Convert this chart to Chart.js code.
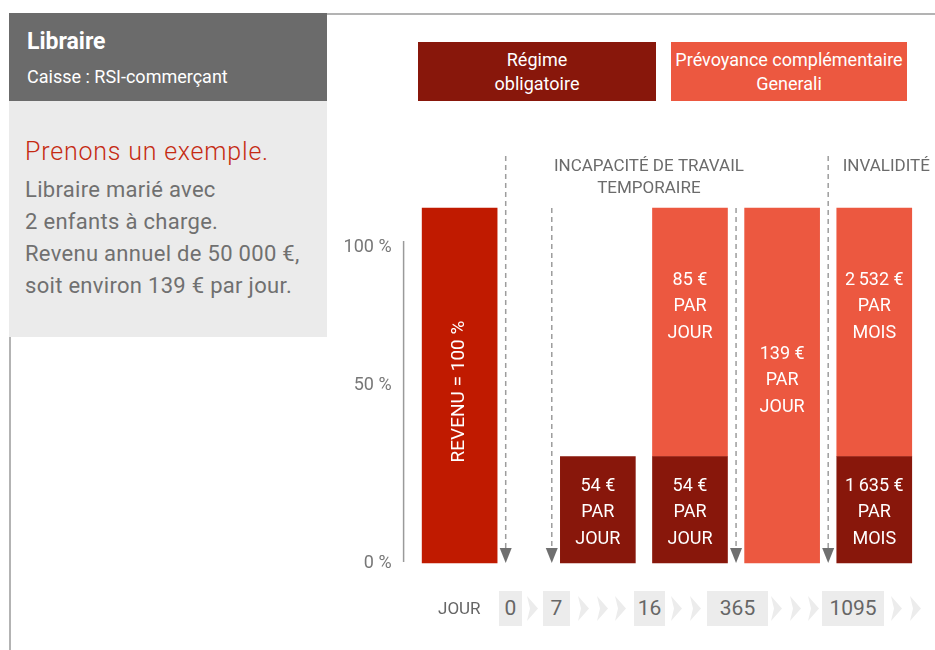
<!DOCTYPE html>
<html lang="fr">
<head>
<meta charset="utf-8">
<title>Libraire</title>
<script src="https://cdn.jsdelivr.net/npm/chart.js@4.4.1/dist/chart.umd.min.js"></script>
<style>
  body { margin: 0; width: 935px; height: 650px; position: relative; overflow: hidden; background: #fff;
         font-family: Roboto, "Liberation Sans", sans-serif; }
  #chart { position: absolute; left: 0; top: 0; }
  .topline { position: absolute; left: 327px; top: 13px; width: 608px; height: 2px; background: #b3b3b3; }
  .sideline { position: absolute; left: 9px; top: 337px; width: 2px; height: 313px; background: #b3b3b3; }
  .head { position: absolute; left: 9px; top: 13px; width: 318px; height: 88px; background: #6b6b6b; color: #fff; }
  .head h1 { margin: 0; position: absolute; left: 18px; top: 16px; font-size: 23px; line-height: 26px; font-weight: bold; }
  .head p { margin: 0; position: absolute; left: 18px; top: 53px; font-size: 18px; line-height: 22px; }
  .panel { position: absolute; left: 9px; top: 101px; width: 318px; height: 236px; background: #ebebeb; }
  .panel .lead { position: absolute; left: 16px; top: 37px; margin: 0; color: #c52a12; font-size: 25px; line-height: 28px;
                 font-weight: 300; letter-spacing: 0.8px; }
  .panel .txt { position: absolute; left: 16px; top: 73px; margin: 0; color: #707070; font-size: 22px; line-height: 32px;
                letter-spacing: 0.3px; }
  .leg { position: absolute; top: 42px; height: 59px; color: #fff; font-size: 18px; line-height: 24px;
         display: flex; align-items: center; justify-content: center; text-align: center; }
  .jour { position: absolute; left: 438px; top: 598px; font-size: 17px; line-height: 20px; color: #666; }
  .day { position: absolute; top: 591px; height: 35px; line-height: 35px; background: #ececec;
         color: #666; font-size: 21px; text-align: center; }
  .chev { position: absolute; top: 596px; }
</style>
</head>
<body>
<canvas id="chart" width="935" height="650"></canvas>
<div class="topline"></div>
<div class="sideline"></div>
<div class="head">
  <h1>Libraire</h1>
  <p>Caisse : RSI-commerçant</p>
</div>
<div class="panel">
  <p class="lead">Prenons un exemple.</p>
  <p class="txt">Libraire marié avec<br>2 enfants à charge.<br>Revenu annuel de 50 000 €,<br>soit environ 139 € par jour.</p>
</div>
<div id="legend"></div>
<div id="days"></div>
<script>
// créneaux de la frise : barres et jalons (jours)
const categories = ['Revenu', '0', '7', '7-16', '16', '16-365', '365', '365-1095', '1095', '1095+'];
const markers = ['0', '7', '365', '1095'];
const tallMarkers = ['0', '1095'];

// hauteurs des barres, en % du revenu
const revenu = [100, null, null, null, null, null, null, null, null, null];
const regime = [null, null, null, 30, null, 30, null, null, null, 30];
const prevoyance = [null, null, null, null, null, 70, null, 100, null, 70];

// textes des barres
const regimeAmounts = [null, null, null, '54 €', null, '54 €', null, null, null, '1\u2009635 €'];
const prevoyanceAmounts = [null, null, null, null, null, '85 €', null, '139 €', null, '2\u2009532 €'];
const periods = [null, null, null, 'JOUR', null, 'JOUR', null, 'JOUR', null, 'MOIS'];

const yTickValues = [0, 50, 89];
const yTickLabels = ['0 %', '50 %', '100 %'];

const legendLabels = [['Régime', 'obligatoire'], ['Prévoyance complémentaire', 'Generali']];
const dayTicks = ['0', '7', '16', '365', '1095'];
const chevronCounts = [1, 3, 2, 3, 2];

const sections = [
    { lines: ['INCAPACITÉ DE TRAVAIL', 'TEMPORAIRE'], at: '16', shift: 5 },
    { lines: ['INVALIDITÉ'], at: '1095+', shift: 12 }
];

const colors = { revenu: '#c01a00', regime: '#88170b', prevoyance: '#ec5840' };
const fontFamily = 'Roboto, "Liberation Sans", sans-serif';

// légende HTML
const legendPos = [[418, 238], [671, 236]];
const legendColors = [colors.regime, colors.prevoyance];
legendLabels.forEach((lines, i) => {
    const d = document.createElement('div');
    d.className = 'leg';
    d.style.left = legendPos[i][0] + 'px';
    d.style.width = legendPos[i][1] + 'px';
    d.style.background = legendColors[i];
    d.innerHTML = '<span>' + lines.join('<br>') + '</span>';
    document.getElementById('legend').appendChild(d);
});

// frise des jours
const daysEl = document.getElementById('days');
daysEl.innerHTML = '<div class="jour">JOUR</div>';
const boxLeft = [499, 543, 634, 707, 822];
const boxWidth = [23, 27, 31, 61, 62];
const chevSvg = '<svg width="11" height="25" viewBox="0 0 11 25"><polygon points="0,0 11,12.5 0,25 3,12.5" fill="#ececec"/></svg>';
dayTicks.forEach((t, i) => {
    const b = document.createElement('div');
    b.className = 'day';
    b.style.left = boxLeft[i] + 'px';
    b.style.width = boxWidth[i] + 'px';
    b.textContent = t;
    daysEl.appendChild(b);
    const start = boxLeft[i] + boxWidth[i];
    const end = i + 1 < dayTicks.length ? boxLeft[i + 1] : start + 44;
    const mid = (start + end) / 2;
    const n = chevronCounts[i];
    for (let k = 0; k < n; k++) {
        const c = document.createElement('div');
        c.className = 'chev';
        c.style.left = (mid + (k - (n - 1) / 2) * 18.5 - 5.5) + 'px';
        c.innerHTML = chevSvg;
        daysEl.appendChild(c);
    }
});

const overlay = {
    id: 'overlay',
    afterDatasetsDraw(chart) {
        const { ctx, chartArea, scales: { x, y } } = chart;
        const zero = y.getPixelForValue(0);
        ctx.save();

        // ligne de l'axe vertical
        const axisX = chartArea.left - 33;
        ctx.strokeStyle = '#9a9a9a';
        ctx.lineWidth = 1.5;
        ctx.beginPath();
        ctx.moveTo(axisX, y.getPixelForValue(yTickValues[yTickValues.length - 1]) - 6);
        ctx.lineTo(axisX, zero - 1);
        ctx.stroke();

        // flèches pointillées des jalons
        markers.forEach(m => {
            const px = x.getPixelForValue(categories.indexOf(m));
            const top = tallMarkers.includes(m) ? chartArea.top - 52 : chartArea.top;
            ctx.setLineDash([5, 4]);
            ctx.strokeStyle = '#9d9d9d';
            ctx.lineWidth = 1.5;
            ctx.beginPath();
            ctx.moveTo(px, top);
            ctx.lineTo(px, zero - 14);
            ctx.stroke();
            ctx.setLineDash([]);
            ctx.fillStyle = '#6f6f6f';
            ctx.beginPath();
            ctx.moveTo(px - 6, zero - 15);
            ctx.lineTo(px + 6, zero - 15);
            ctx.lineTo(px, zero);
            ctx.closePath();
            ctx.fill();
        });

        // titres des périodes
        ctx.fillStyle = '#6b6b6b';
        ctx.font = '17px ' + fontFamily;
        ctx.textAlign = 'center';
        ctx.textBaseline = 'middle';
        sections.forEach(s => {
            const px = x.getPixelForValue(categories.indexOf(s.at)) + s.shift;
            s.lines.forEach((l, i) => ctx.fillText(l, px, chartArea.top - 41 + i * 22));
        });

        // textes dans les barres
        ctx.fillStyle = '#fff';
        ctx.font = '18px ' + fontFamily;
        const writeLines = (lines, cx, cy) => {
            lines.forEach((l, i) => ctx.fillText(l, cx, cy + 3 + (i - 1) * 26.5));
        };
        chart.getDatasetMeta(1).data.forEach((el, i) => {
            if (regime[i] == null || !regimeAmounts[i]) return;
            writeLines([regimeAmounts[i], 'PAR', periods[i]], el.x, (el.y + el.base) / 2);
        });
        chart.getDatasetMeta(2).data.forEach((el, i) => {
            if (prevoyance[i] == null || !prevoyanceAmounts[i]) return;
            const stackedOn = el.base < zero - 1;
            const cy = stackedOn ? el.y + (el.base - el.y) * 0.385 : (el.y + el.base) / 2 - 8;
            writeLines([prevoyanceAmounts[i], 'PAR', periods[i]], el.x, cy);
        });
        ctx.font = '19px ' + fontFamily;
        chart.getDatasetMeta(0).data.forEach((el, i) => {
            if (revenu[i] == null) return;
            ctx.save();
            ctx.translate(el.x, (el.y + el.base) / 2 + 6);
            ctx.rotate(-Math.PI / 2);
            ctx.fillText('REVENU = ' + revenu[i] + ' %', 0, 0);
            ctx.restore();
        });
        ctx.restore();
    }
};

Chart.defaults.font.family = fontFamily;

new Chart(document.getElementById('chart'), {
    type: 'bar',
    data: {
        labels: categories,
        datasets: [
            { label: 'Revenu', data: revenu, backgroundColor: colors.revenu },
            { label: 'Régime obligatoire', data: regime, backgroundColor: colors.regime },
            { label: 'Prévoyance complémentaire Generali', data: prevoyance, backgroundColor: colors.prevoyance }
        ]
    },
    options: {
        responsive: false,
        animation: false,
        devicePixelRatio: 1,
        datasets: { bar: { barThickness: 75, clip: false, borderWidth: 0 } },
        layout: { padding: { left: 336.6, right: 37.7, top: 208, bottom: 87 } },
        plugins: { legend: { display: false }, tooltip: { enabled: false } },
        scales: {
            x: { display: false, stacked: true, offset: true },
            y: {
                stacked: true,
                min: 0,
                max: 100,
                grid: { display: false, drawTicks: false },
                border: { display: false },
                afterBuildTicks: s => { s.ticks = yTickValues.map(v => ({ value: v })); },
                afterFit: s => { s.width = 100; s.paddingTop = 0; s.paddingBottom = 0; },
                ticks: {
                    padding: 45,
                    color: '#777',
                    font: { size: 18 },
                    callback: v => yTickLabels[yTickValues.indexOf(v)]
                }
            }
        }
    },
    plugins: [overlay]
});
</script>
</body>
</html>
